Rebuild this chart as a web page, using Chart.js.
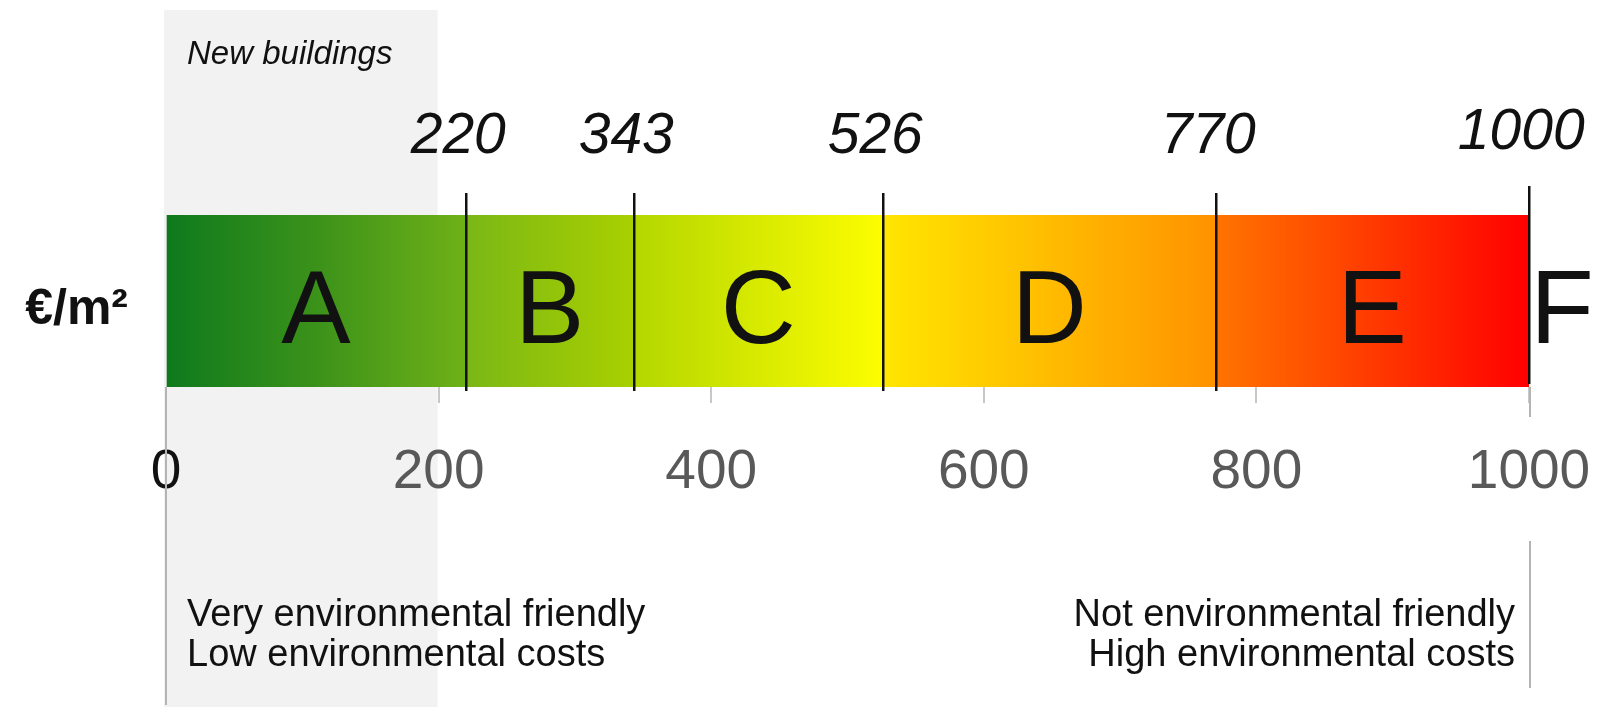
<!DOCTYPE html>
<html>
<head>
<meta charset="utf-8">
<title>Environmental cost classes</title>
<script src="https://cdn.jsdelivr.net/npm/chart.js@4.4.1/dist/chart.umd.min.js"></script>
<style>
  html, body { margin: 0; padding: 0; background: #fff; }
  canvas { display: block; }
</style>
</head>
<body>
<canvas id="scale" width="1604" height="707"></canvas>
<script>
// Environmental cost classes for buildings, in euro per square metre
const grades = ['A', 'B', 'C', 'D', 'E', 'F'];
const classBounds = [0, 220, 343, 526, 770, 1000];
const tickValues = [0, 200, 400, 600, 800, 1000];
const newBuildingsRange = [0, 200];
const unitLabel = '€/m²';
const bandLabel = 'New buildings';
const lowEndNote = ['Very environmental friendly', 'Low environmental costs'];
const highEndNote = ['Not environmental friendly', 'High environmental costs'];

// Colour ramp of each class, left to right
const classGradients = [
  ['#0e7a1d', '#3b921a', '#6fb117'],
  ['#7ab716', '#a9d000'],
  ['#b3d700', '#fdfd00'],
  ['#ffe600', '#ff9200'],
  ['#ff7400', '#ff0000']
];

const FONT = '"Liberation Sans", Arial, Helvetica, sans-serif';

function classFill(chart, i) {
  const area = chart.chartArea;
  const stops = classGradients[i];
  if (!area) return stops[0];
  const x = chart.scales.x;
  const x0 = x.getPixelForValue(classBounds[i]);
  const x1 = x.getPixelForValue(classBounds[i + 1]);
  const g = chart.ctx.createLinearGradient(x0, 0, x1, 0);
  stops.forEach((c, k) => g.addColorStop(k / (stops.length - 1), c));
  return g;
}

const datasets = classBounds.slice(0, -1).map((start, i) => ({
  label: grades[i],
  data: [[start, classBounds[i + 1]]],
  backgroundColor: ctx => classFill(ctx.chart, i),
  borderWidth: 0,
  grouped: false,
  barPercentage: 1,
  categoryPercentage: 1
}));

const decorations = {
  id: 'decorations',
  beforeDraw(chart) {
    const { ctx, scales: { x } } = chart;
    ctx.save();
    ctx.fillStyle = '#ffffff';
    ctx.fillRect(0, 0, chart.width, chart.height);
    // shaded band for the new-building range
    const bx0 = x.getPixelForValue(newBuildingsRange[0]);
    const bx1 = x.getPixelForValue(newBuildingsRange[1]);
    ctx.fillStyle = '#f2f2f2';
    ctx.fillRect(bx0 - 2, 10, bx1 - bx0 + 1, chart.height - 10);
    ctx.fillStyle = '#111';
    ctx.font = 'italic 33px ' + FONT;
    ctx.textAlign = 'left';
    ctx.textBaseline = 'alphabetic';
    ctx.fillText(bandLabel, bx0 + 21, 64);
    ctx.restore();
  },
  afterDatasetsDraw(chart) {
    const { ctx, chartArea: a, scales: { x } } = chart;
    ctx.save();
    // class boundaries with their values
    ctx.strokeStyle = '#111';
    ctx.lineWidth = 2.5;
    ctx.fillStyle = '#111';
    ctx.font = 'italic 57px ' + FONT;
    ctx.textAlign = 'center';
    ctx.textBaseline = 'alphabetic';
    classBounds.slice(1).forEach((v, k) => {
      const px = Math.round(x.getPixelForValue(v)) + 0.25;
      const last = k === classBounds.length - 2;
      ctx.beginPath();
      ctx.moveTo(px, a.top - (last ? 29 : 22));
      ctx.lineTo(px, a.bottom + (last ? -3 : 4));
      ctx.stroke();
      ctx.fillText(String(v), px - 8, last ? 149 : 153);
    });
    // class letters
    ctx.font = '104px ' + FONT;
    grades.forEach((g, i) => {
      let cx;
      if (i < classBounds.length - 1) {
        cx = (x.getPixelForValue(classBounds[i]) + x.getPixelForValue(classBounds[i + 1])) / 2;
      } else {
        cx = x.getPixelForValue(classBounds[classBounds.length - 1]) + 33;
      }
      ctx.fillText(g, cx, 343);
    });
    // unit
    ctx.font = 'bold 50px ' + FONT;
    ctx.textAlign = 'right';
    ctx.fillText(unitLabel, a.left - 38, 324);
    ctx.restore();
  },
  afterDraw(chart) {
    const { ctx, chartArea: a, scales: { x } } = chart;
    ctx.save();
    // end-of-scale guide lines
    ctx.strokeStyle = '#b4b4b4';
    ctx.lineWidth = 2;
    const p0 = Math.round(x.getPixelForValue(classBounds[0]));
    const p1 = Math.round(x.getPixelForValue(classBounds[classBounds.length - 1])) + 1;
    ctx.beginPath();
    ctx.moveTo(p0, a.bottom);
    ctx.lineTo(p0, 705);
    ctx.moveTo(p1, a.bottom);
    ctx.lineTo(p1, 417);
    ctx.moveTo(p1, 541);
    ctx.lineTo(p1, 688);
    ctx.stroke();
    // end notes
    ctx.fillStyle = '#111';
    ctx.font = '38px ' + FONT;
    ctx.textBaseline = 'alphabetic';
    ctx.textAlign = 'left';
    lowEndNote.forEach((t, k) => ctx.fillText(t, p0 + 21, 626 + k * 40));
    ctx.textAlign = 'right';
    highEndNote.forEach((t, k) => ctx.fillText(t, p1 - 15, 626 + k * 40));
    ctx.restore();
  }
};

new Chart(document.getElementById('scale'), {
  type: 'bar',
  data: { labels: [unitLabel], datasets },
  options: {
    indexAxis: 'y',
    responsive: false,
    animation: false,
    layout: { padding: { top: 215, left: 166, right: 75, bottom: 0 } },
    plugins: { legend: { display: false }, tooltip: { enabled: false } },
    scales: {
      x: {
        type: 'linear',
        min: 0,
        max: 1000,
        afterBuildTicks: s => { s.ticks = tickValues.map(v => ({ value: v })); },
        afterFit: s => { s.height = 320; s.paddingLeft = 0; s.paddingRight = 0; },
        border: { display: false },
        grid: { drawOnChartArea: false, drawTicks: true, tickLength: 16, color: '#c8c8c8', lineWidth: 2 },
        ticks: {
          padding: 37,
          maxRotation: 0,
          autoSkip: false,
          font: { family: FONT, size: 55 },
          callback: v => String(v),
          color: c => (c.tick && c.tick.value === 0 ? '#111' : '#595959')
        }
      },
      y: { display: false }
    }
  },
  plugins: [decorations]
});
</script>
</body>
</html>
